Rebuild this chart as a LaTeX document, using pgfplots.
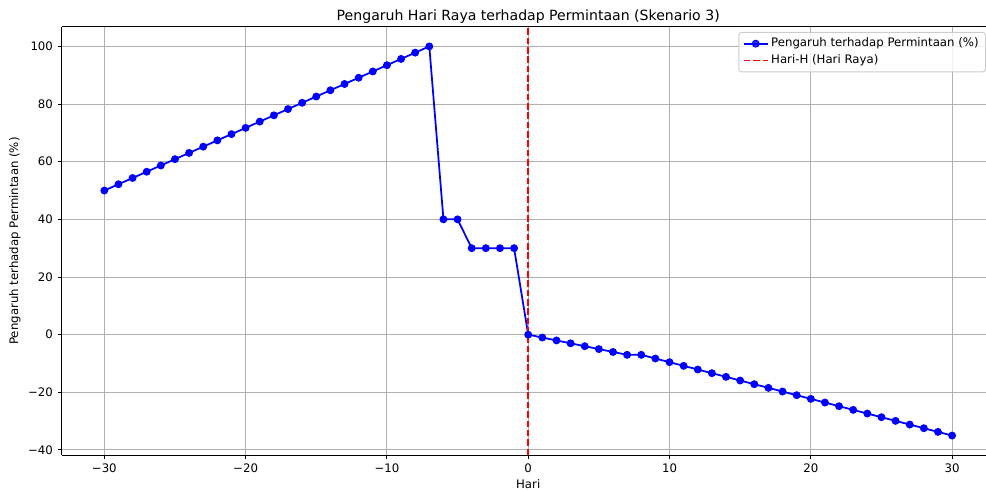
\documentclass[border=0pt]{standalone}
\usepackage{fontspec}
\setmainfont{DejaVu Sans}
\usepackage{pgfplots}
\pgfplotsset{compat=1.18}
\definecolor{gridgray}{HTML}{B0B0B0}
\definecolor{leggray}{HTML}{CCCCCC}
\begin{document}
\begin{tikzpicture}
\begin{axis}[
  scale only axis,
  width=665.3pt, height=308.2pt,
  xmin=-33, xmax=32.4,
  ymin=-41.75, ymax=106.75,
  axis lines*=left,
  axis line style={black, line width=0.68pt},
  xtick={-30,-20,-10,0,10,20,30},
  xticklabels={−30,−20,−10,0,10,20,30},
  ytick={-40,-20,0,20,40,60,80,100},
  yticklabels={−40,−20,0,20,40,60,80,100},
  tick align=outside,
  major tick length=2.96pt,
  tick style={black, line width=0.68pt},
  xtick pos=lower, ytick pos=left,
  ticklabel style={font=\fontsize{8.45}{10}\selectfont},
  grid=major,
  major grid style={gridgray, line width=0.68pt},
  title={Pengaruh Hari Raya terhadap Permintaan (Skenario 3)},
  title style={font=\fontsize{10.14}{12}\selectfont, at={(axis description cs:0.5046,1.0146)}, anchor=base, inner sep=0pt, yshift=-6pt},
  xlabel={Hari},
  xlabel style={font=\fontsize{8.45}{10}\selectfont, at={(axis description cs:0.5046,-0.0772)}, anchor=base, inner sep=0pt},
  ylabel={Pengaruh terhadap Permintaan (\%)},
  ylabel style={font=\fontsize{8.45}{10}\selectfont, at={(axis description cs:-0.0508,0.5)}, anchor=center, inner sep=0pt},
  legend style={at={(rel axis cs:1,1)}, anchor=north east, yshift=-3.6pt,
    draw=leggray, rounded corners=2pt, fill=white, fill opacity=0.8, text opacity=1,
    font=\fontsize{8.45}{10}\selectfont, line width=0.68pt, inner xsep=3pt, inner ysep=2pt, row sep=0pt,
    nodes={text height=6.6pt, text depth=2pt, inner ysep=1.8pt}},
  legend cell align=left,
  legend image code/.code={\draw[mark repeat=2, mark phase=2, #1] plot coordinates {(0pt,0pt) (8.5pt,0pt) (17pt,0pt)};},
]
\addplot[blue, line width=1.27pt, mark=*, mark size=2.4pt, mark options={fill=blue, draw=blue, line width=0.85pt, solid}] coordinates {
(-30,50) (-29,52.1739) (-28,54.3478) (-27,56.5217) (-26,58.6957) (-25,60.8696)
(-24,63.0435) (-23,65.2174) (-22,67.3913) (-21,69.5652) (-20,71.7391) (-19,73.9130)
(-18,76.0870) (-17,78.2609) (-16,80.4348) (-15,82.6087) (-14,84.7826) (-13,86.9565)
(-12,89.1304) (-11,91.3043) (-10,93.4783) (-9,95.6522) (-8,97.8261) (-7,100)
(-6,40) (-5,40) (-4,30) (-3,30) (-2,30) (-1,30) (0,0)
(1,-1) (2,-2) (3,-3) (4,-4) (5,-5) (6,-6) (7,-7)
(8,-7) (9,-8.2727) (10,-9.5455) (11,-10.8182) (12,-12.0909) (13,-13.3636)
(14,-14.6364) (15,-15.9091) (16,-17.1818) (17,-18.4545) (18,-19.7273) (19,-21)
(20,-22.2727) (21,-23.5455) (22,-24.8182) (23,-26.0909) (24,-27.3636) (25,-28.6364)
(26,-29.9091) (27,-31.1818) (28,-32.4545) (29,-33.7273) (30,-35)
};
\addlegendentry{Pengaruh terhadap Permintaan (\%)}
\addplot[red, line width=1.27pt, dash pattern=on 4.69pt off 2.03pt] coordinates {(0,-41.75) (0,106.75)};
\addlegendentry{Hari-H (Hari Raya)}
\draw[black, line width=0.68pt] (rel axis cs:0,1) -- (rel axis cs:1,1);
\end{axis}
\pgfresetboundingbox
\path ([xshift=-44.6pt,yshift=-25.2pt]current axis.south west) rectangle ([yshift=19.4pt]current axis.north east);
\end{tikzpicture}
\end{document}
